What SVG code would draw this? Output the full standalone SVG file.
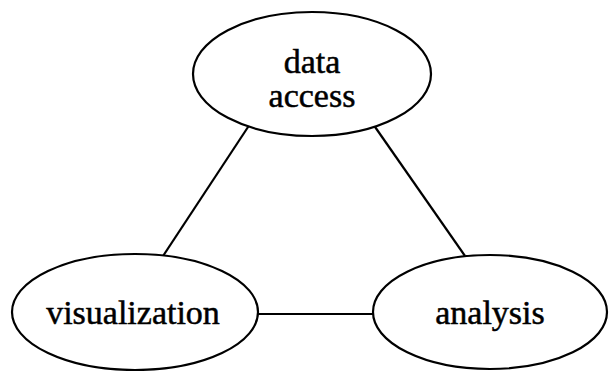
<svg xmlns="http://www.w3.org/2000/svg" width="609" height="371" viewBox="0 0 609 371">
<style>
.n{fill:#fff;stroke:#000;stroke-width:2.2}
.t{font-family:"Liberation Serif","Times New Roman",serif;font-size:34px;fill:#000;stroke:#000;stroke-width:0.5;text-anchor:middle}
.c{stroke:#000;stroke-width:2.2;fill:none}
</style>
<rect width="609" height="371" fill="#fff"/>
<g id="connectors">
<line class="c" x1="250" y1="124" x2="163" y2="256"/>
<line class="c" x1="373" y1="124" x2="465" y2="256"/>
<line class="c" x1="258" y1="314" x2="373" y2="314"/>
</g>
<g id="data-access">
<ellipse class="n" cx="312" cy="74" rx="119" ry="62"/>
<text class="t" x="312" y="73">data</text>
<text class="t" x="312" y="107">access</text>
</g>
<g id="visualization">
<ellipse class="n" cx="135" cy="312" rx="123" ry="58"/>
<text class="t" x="133" y="324">visualization</text>
</g>
<g id="analysis">
<ellipse class="n" cx="490" cy="312" rx="117" ry="57"/>
<text class="t" x="490" y="324">analysis</text>
</g>
</svg>
